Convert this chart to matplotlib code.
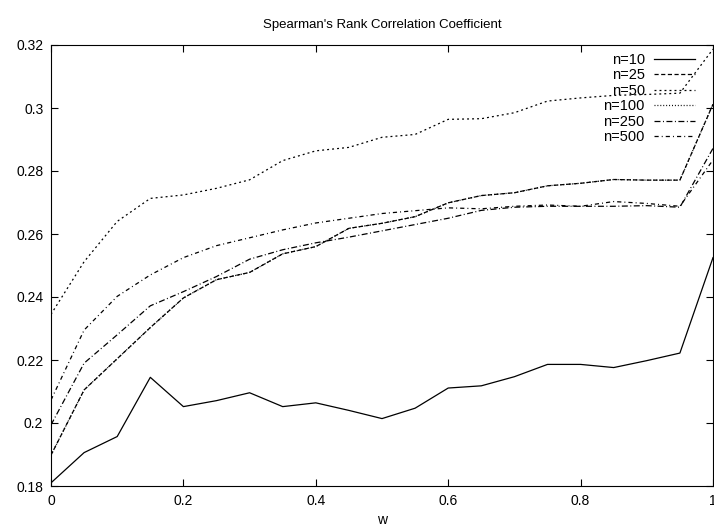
import matplotlib.pyplot as plt

plt.rcParams['font.family'] = ['Liberation Sans', 'DejaVu Sans']
plt.rcParams['lines.scale_dashes'] = False

# w values
w = [0.0, 0.05, 0.1, 0.15, 0.2, 0.25, 0.3, 0.35, 0.4, 0.45, 0.5,
     0.55, 0.6, 0.65, 0.7, 0.75, 0.8, 0.85, 0.9, 0.95, 1.0]

n10 = [0.1810, 0.1906, 0.1957, 0.2145, 0.2052, 0.2071, 0.2096, 0.2052, 0.2064, 0.2040, 0.2014,
       0.2047, 0.2111, 0.2118, 0.2147, 0.2186, 0.2186, 0.2176, 0.2198, 0.2222, 0.2525]
n25 = [0.1898, 0.2105, 0.2204, 0.2303, 0.2397, 0.2455, 0.2478, 0.2537, 0.2560, 0.2618, 0.2634,
       0.2655, 0.2699, 0.2722, 0.2731, 0.2753, 0.2761, 0.2773, 0.2771, 0.2771, 0.3012]
n50 = [0.2345, 0.2512, 0.2640, 0.2713, 0.2724, 0.2745, 0.2772, 0.2833, 0.2864, 0.2875, 0.2907,
       0.2916, 0.2964, 0.2966, 0.2985, 0.3022, 0.3032, 0.3040, 0.3043, 0.3047, 0.3187]
n100 = [0.1898, 0.2105, 0.2204, 0.2303, 0.2397, 0.2455, 0.2478, 0.2537, 0.2560, 0.2618, 0.2634,
        0.2655, 0.2699, 0.2722, 0.2731, 0.2753, 0.2761, 0.2773, 0.2771, 0.2771, 0.3012]
n250 = [0.1994, 0.2190, 0.2280, 0.2372, 0.2417, 0.2465, 0.2520, 0.2550, 0.2572, 0.2590, 0.2610,
        0.2630, 0.2650, 0.2675, 0.2685, 0.2688, 0.2688, 0.2688, 0.2690, 0.2685, 0.2872]
n500 = [0.2073, 0.2295, 0.2402, 0.2470, 0.2525, 0.2563, 0.2588, 0.2613, 0.2635, 0.2650, 0.2665,
        0.2674, 0.2683, 0.2680, 0.2688, 0.2692, 0.2688, 0.2703, 0.2697, 0.2688, 0.2835]

labels = ['n=10', 'n=25', 'n=50', 'n=100', 'n=250', 'n=500']
styles = ['-', (0, (3.0, 1.8)), (0, (1.4, 2.2)), (0, (0.7, 1.4)),
          (0, (4.3, 1.8, 0.7, 1.8)), (0, (3.0, 2.2, 0.7, 2.2))]

fig = plt.figure(figsize=(7.14, 5.27), dpi=100)
ax = fig.add_axes([51 / 714, 41 / 527, 662 / 714, 441 / 527])

for ys, lab, ls in zip([n10, n25, n50, n100, n250, n500], labels, styles):
    ax.plot(w, ys, color='black', lw=0.9, linestyle=ls, label=lab)

ax.set_xlim(0, 1)
ax.set_ylim(0.18, 0.32)
ax.set_xticks([0, 0.2, 0.4, 0.6, 0.8, 1])
ax.set_xticklabels(['0', '0.2', '0.4', '0.6', '0.8', '1'])
ax.set_yticks([0.18, 0.2, 0.22, 0.24, 0.26, 0.28, 0.3, 0.32])
ax.set_yticklabels(['0.18', '0.2', '0.22', '0.24', '0.26', '0.28', '0.3', '0.32'])
ax.tick_params(direction='in', length=5, width=0.8, top=True, right=True,
               labelsize=10, pad=5.5)
for s in ax.spines.values():
    s.set_linewidth(0.8)

ax.set_title("Spearman's Rank Correlation Coefficient", fontsize=9.5, pad=12)
ax.set_xlabel('w', fontsize=10, labelpad=4)

ax.legend(loc='upper right', bbox_to_anchor=(0.9728, 0.982), frameon=False,
          markerfirst=False, fontsize=10.5, handlelength=2.8, labelspacing=0.1,
          handletextpad=0.65, borderaxespad=0, borderpad=0)

fig.savefig('out.png', dpi=100)
